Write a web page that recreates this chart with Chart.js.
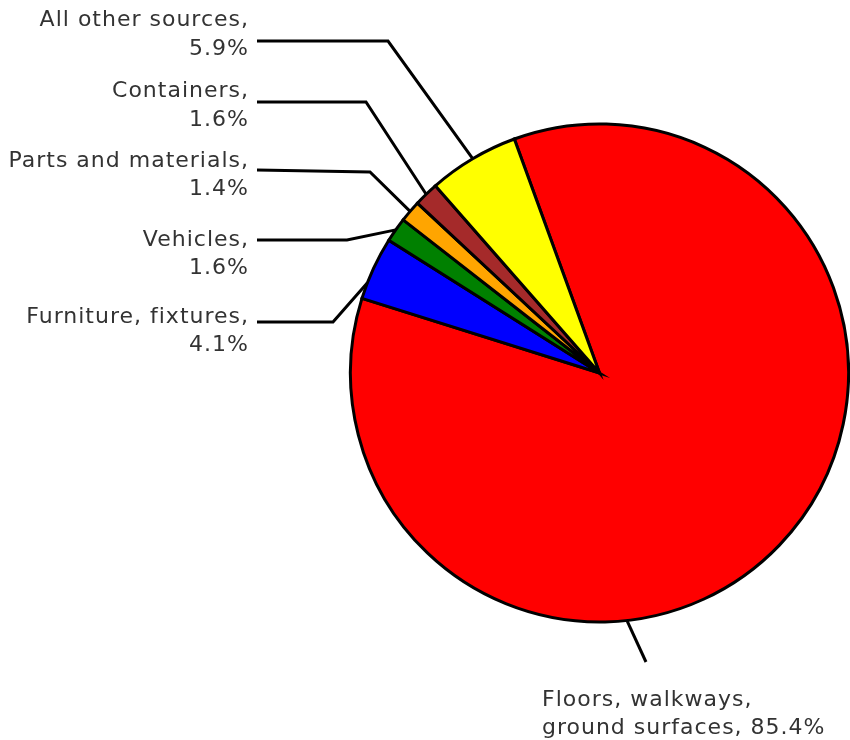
<!DOCTYPE html>
<html>
<head>
<meta charset="utf-8">
<script src="https://cdn.jsdelivr.net/npm/chart.js@4/dist/chart.umd.min.js"></script>
<style>
  html, body { margin: 0; padding: 0; background: #fff; }
  #wrap { width: 850px; height: 740px; }
</style>
</head>
<body>
<div id="wrap"><canvas id="c" width="850" height="740"></canvas></div>
<script>
// ---- data ----
const categories = [
  "Floors, walkways, ground surfaces",
  "Furniture, fixtures",
  "Vehicles",
  "Parts and materials",
  "Containers",
  "All other sources"
];
const labelLines = [
  ["Floors, walkways,", "ground surfaces, 85.4%"],
  ["Furniture, fixtures,", "4.1%"],
  ["Vehicles,", "1.6%"],
  ["Parts and materials,", "1.4%"],
  ["Containers,", "1.6%"],
  ["All other sources,", "5.9%"]
];
const shares = [85.4, 4.1, 1.6, 1.4, 1.6, 5.9];
const colors = ["#ff0000", "#0000ff", "#008000", "#ffa500", "#a52a2a", "#ffff00"];

// ---- label layout (positions only) ----
// frac: where along the slice the leader touches the rim
const labelLayout = [
  { align: "left",  tx: 542, ty: [706, 734], frac: 0.63, path: [[646, 662]] },
  { align: "right", tx: 249, ty: [323, 351], frac: 0.26, path: [[333, 322], [257, 322]] },
  { align: "right", tx: 249, ty: [246, 274], frac: 0.5,  path: [[347, 240], [257, 240]] },
  { align: "right", tx: 249, ty: [167, 195], frac: 0.5,  path: [[370, 172], [257, 170]] },
  { align: "right", tx: 249, ty: [97, 126],  frac: 0.5,  path: [[366, 102], [257, 102]] },
  { align: "right", tx: 249, ty: [26, 55],   frac: 0.5,  path: [[388, 41], [257, 41]] }
];

const outsideLabels = {
  id: "outsideLabels",
  afterDatasetsDraw(chart) {
    const ctx = chart.ctx;
    const meta = chart.getDatasetMeta(0);
    ctx.save();
    meta.data.forEach((arc, i) => {
      const p = arc.getProps(["x", "y", "startAngle", "endAngle", "outerRadius"], true);
      const L = labelLayout[i];
      const a = p.startAngle + (p.endAngle - p.startAngle) * L.frac;
      const ex = p.x + p.outerRadius * Math.cos(a);
      const ey = p.y + p.outerRadius * Math.sin(a);
      ctx.beginPath();
      ctx.strokeStyle = "#000";
      ctx.lineWidth = 3;
      ctx.lineJoin = "miter";
      ctx.moveTo(ex, ey);
      L.path.forEach(pt => ctx.lineTo(pt[0], pt[1]));
      ctx.stroke();
      ctx.fillStyle = "#333";
      ctx.font = "22px 'DejaVu Sans'";
      try { ctx.letterSpacing = "1px"; } catch (e) {}
      ctx.textAlign = L.align;
      ctx.textBaseline = "alphabetic";
      labelLines[i].forEach((t, k) => ctx.fillText(t, L.tx, L.ty[k]));
    });
    ctx.restore();
  }
};

new Chart(document.getElementById("c"), {
  type: "pie",
  data: {
    labels: categories,
    datasets: [{
      data: shares,
      backgroundColor: colors,
      borderColor: "#000",
      borderWidth: 3,
      borderJoinStyle: "miter"
    }]
  },
  options: {
    responsive: false,
    animation: false,
    rotation: -20,
    layout: { padding: { left: 349, right: 0, top: 122, bottom: 116 } },
    plugins: { legend: { display: false }, tooltip: { enabled: false } }
  },
  plugins: [outsideLabels]
});
</script>
</body>
</html>
